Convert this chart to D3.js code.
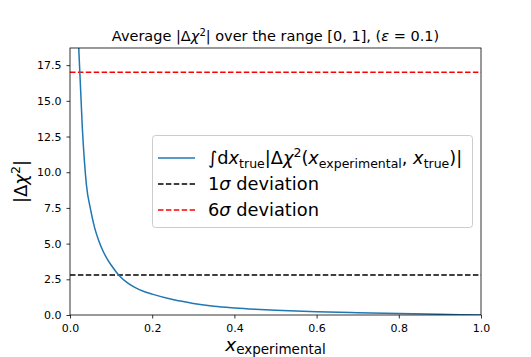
<!DOCTYPE html>
<html lang="en">
<head>
<meta charset="utf-8">
<title>Average |Δχ²| over the range [0, 1]</title>
<script src="https://d3js.org/d3.v7.min.js"></script>
<style>
  body { margin: 0; background: #fff; }
  svg text { font-family: "DejaVu Sans", sans-serif; fill: #000; }
  .tick line { stroke: #000; stroke-width: 0.8; }
  .tick text { font-size: 11px; }
</style>
</head>
<body>
<script>
// curve
var xExp = [0.02, 0.03, 0.04, 0.05, 0.06, 0.07, 0.08, 0.09, 0.10, 0.12, 0.14, 0.16, 0.18, 0.20,
            0.25, 0.30, 0.35, 0.40, 0.45, 0.50, 0.60, 0.70, 0.80, 0.90, 1.00];
var avgDelta = [19.5, 13.1, 9.1, 7.4, 6.1, 5.2, 4.5, 3.95, 3.5, 2.75, 2.25, 1.9, 1.65, 1.46,
                1.08, 0.81, 0.61, 0.49, 0.40, 0.33, 0.23, 0.16, 0.10, 0.05, 0.0];
var oneSigma = 2.8;
var sixSigma = 17.0;
var xTicks = [0, 0.2, 0.4, 0.6, 0.8, 1.0];
var yTicks = [0, 2.5, 5, 7.5, 10, 12.5, 15, 17.5];

var W = 531, H = 357;
var pLeft = 70, pRight = 481, pTop = 48, pBottom = 315;

var x = d3.scaleLinear().domain([0, 1]).range([pLeft, pRight]);
var y = d3.scaleLinear().domain([0, 18.7]).range([pBottom, pTop]);

var svg = d3.select("body").append("svg")
  .attr("width", W).attr("height", H);

svg.append("defs").append("clipPath").attr("id", "plot")
  .append("rect").attr("x", pLeft).attr("y", pTop)
  .attr("width", pRight - pLeft).attr("height", pBottom - pTop);

var g = svg.append("g").attr("clip-path", "url(#plot)");

// reference lines
g.append("line")
  .attr("x1", pLeft).attr("x2", pRight)
  .attr("y1", y(oneSigma)).attr("y2", y(oneSigma))
  .attr("stroke", "#000").attr("stroke-width", 1.5)
  .attr("stroke-dasharray", "5.5,2.4");
g.append("line")
  .attr("x1", pLeft).attr("x2", pRight)
  .attr("y1", y(sixSigma)).attr("y2", y(sixSigma))
  .attr("stroke", "#ff0000").attr("stroke-width", 1.5)
  .attr("stroke-dasharray", "5.5,2.4");

var line = d3.line()
  .x(function(d, i) { return x(xExp[i]); })
  .y(function(d) { return y(d); })
  .curve(d3.curveMonotoneX);

g.append("path")
  .datum(avgDelta)
  .attr("d", line)
  .attr("fill", "none")
  .attr("stroke", "#1f77b4")
  .attr("stroke-width", 1.5);

// axes
svg.append("g")
  .attr("transform", "translate(0," + pBottom + ")")
  .call(d3.axisBottom(x).tickValues(xTicks).tickFormat(d3.format(".1f"))
    .tickSize(3.5).tickPadding(5.5))
  .call(function(a) { a.select(".domain").remove(); });

svg.append("g")
  .attr("transform", "translate(" + pLeft + ",0)")
  .call(d3.axisLeft(y).tickValues(yTicks).tickFormat(d3.format(".1f"))
    .tickSize(3.5).tickPadding(5))
  .call(function(a) { a.select(".domain").remove(); });

// spines
svg.append("rect")
  .attr("x", pLeft).attr("y", pTop)
  .attr("width", pRight - pLeft).attr("height", pBottom - pTop)
  .attr("fill", "none").attr("stroke", "#000").attr("stroke-width", 0.8);

// title
var title = svg.append("text")
  .attr("x", (pLeft + pRight) / 2).attr("y", 41)
  .attr("text-anchor", "middle").style("font-size", "14.5px");
title.append("tspan").text("Average |Δ");
title.append("tspan").style("font-style", "italic").text("χ");
title.append("tspan").attr("dy", -5).style("font-size", "10px").text("2");
title.append("tspan").attr("dy", 5).text("| over the range [0, 1], (");
title.append("tspan").style("font-style", "italic").text("ε");
title.append("tspan").text(" = 0.1)");

// x label
var xl = svg.append("text")
  .attr("x", (pLeft + pRight) / 2).attr("y", 350.5)
  .attr("text-anchor", "middle").style("font-size", "18.5px");
xl.append("tspan").style("font-style", "italic").text("x");
xl.append("tspan").attr("dy", 3).style("font-size", "13.5px").text("experimental");

// y label
var yl = svg.append("text")
  .attr("transform", "translate(27," + ((pTop + pBottom) / 2) + ") rotate(-90)")
  .attr("text-anchor", "middle").style("font-size", "18px");
yl.append("tspan").text("|Δ");
yl.append("tspan").style("font-style", "italic").text("χ");
yl.append("tspan").attr("dy", -7).style("font-size", "12.5px").text("2");
yl.append("tspan").attr("dy", 7).text("|");

// legend
var lg = svg.append("g");
lg.append("rect")
  .attr("x", 152.5).attr("y", 135.5).attr("width", 320).attr("height", 92)
  .attr("rx", 3).attr("fill", "#fff").attr("fill-opacity", 0.8)
  .attr("stroke", "#ccc").attr("stroke-width", 1);

var rows = [
  { yy: 158, color: "#1f77b4", dash: null },
  { yy: 184, color: "#000", dash: "5.5,2.4" },
  { yy: 210, color: "#ff0000", dash: "5.5,2.4" }
];
rows.forEach(function(r) {
  lg.append("line")
    .attr("x1", 158).attr("x2", 195).attr("y1", r.yy).attr("y2", r.yy)
    .attr("stroke", r.color).attr("stroke-width", 1.5)
    .attr("stroke-dasharray", r.dash);
});

var t1 = lg.append("text").attr("x", 208).attr("y", 164).style("font-size", "17.8px");
t1.append("tspan").text("∫d");
t1.append("tspan").style("font-style", "italic").text("x");
t1.append("tspan").attr("dy", 4).style("font-size", "12.5px").text("true");
t1.append("tspan").attr("dy", -4).text("|Δ");
t1.append("tspan").style("font-style", "italic").text("χ");
t1.append("tspan").attr("dy", -7).style("font-size", "12.5px").text("2");
t1.append("tspan").attr("dy", 7).text("(");
t1.append("tspan").style("font-style", "italic").text("x");
t1.append("tspan").attr("dy", 4).style("font-size", "12.5px").text("experimental");
t1.append("tspan").attr("dy", -4).text(", ");
t1.append("tspan").style("font-style", "italic").text("x");
t1.append("tspan").attr("dy", 4).style("font-size", "12.5px").text("true");
t1.append("tspan").attr("dy", -4).text(")|");

[["1", 190], ["6", 216]].forEach(function(p) {
  var t = lg.append("text").attr("x", 208).attr("y", p[1]).style("font-size", "17.8px");
  t.append("tspan").text(p[0]);
  t.append("tspan").style("font-style", "italic").text("σ");
  t.append("tspan").text(" deviation");
});
</script>
</body>
</html>
